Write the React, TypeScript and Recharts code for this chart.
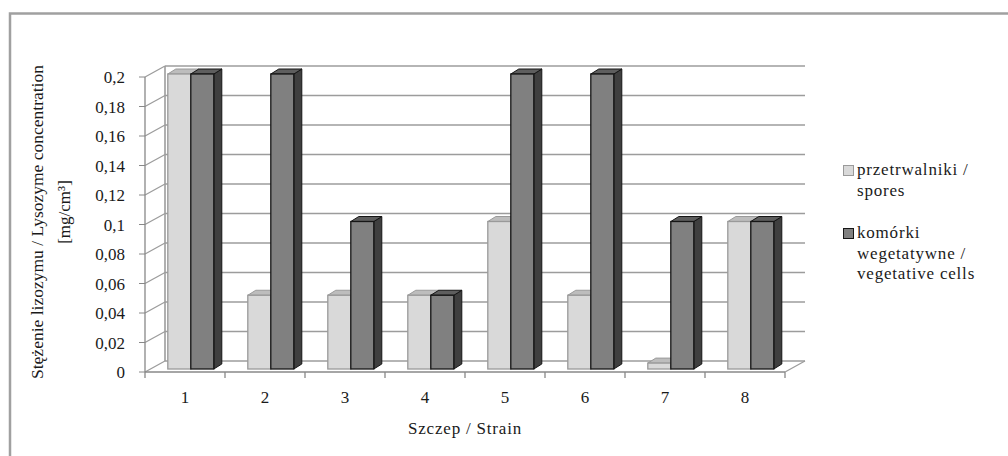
import React from "react";
import {
  Bar,
  BarChart,
  CartesianGrid,
  Legend,
  XAxis,
  YAxis,
} from "recharts";

const categories = ["1", "2", "3", "4", "5", "6", "7", "8"];
const sporesValues = [0.2, 0.05, 0.05, 0.05, 0.1, 0.05, 0.004, 0.1];
const vegetativeValues = [0.2, 0.2, 0.1, 0.05, 0.2, 0.2, 0.1, 0.1];
const yTicks = [0, 0.02, 0.04, 0.06, 0.08, 0.1, 0.12, 0.14, 0.16, 0.18, 0.2];

const sporesLabel = ["przetrwalniki /", "spores"];
const vegetativeLabel = ["komórki", "wegetatywne /", "vegetative cells"];
const yLabelLines = ["Stężenie lizozymu / Lysozyme concentration", "[mg/cm³]"];
const xLabel = "Szczep / Strain";

const data = categories.map((name, i) => ({
  name,
  spores: sporesValues[i],
  vegetative: vegetativeValues[i],
}));

const FONT = "Liberation Serif, DejaVu Serif, serif";
const W = 1008;
const H = 456;

// depth of the back wall and of the bars
const WALL_DX = 20;
const WALL_DY = -11;
const BAR_DX = 8;
const BAR_DY = -5;
const BAR_SHIFT_X = 6;
const BAR_SHIFT_Y = -3;
const GRID = "#9c9c9c";

interface BoxColors {
  front: string;
  top: string;
  side: string;
  stroke: string;
}

const lightBox: BoxColors = { front: "#d9d9d9", top: "#bdbdbd", side: "#b0b0b0", stroke: "#9a9a9a" };
const darkBox: BoxColors = { front: "#808080", top: "#5e5e5e", side: "#3f3f3f", stroke: "#161616" };

const makeBox = (c: BoxColors) => (props: any) => {
  const { x, y, width, height } = props;
  if (!height || height <= 0) return <g />;
  const bx = x + BAR_SHIFT_X;
  const by = y + BAR_SHIFT_Y;
  const w = width;
  const h = height;
  const top = `${bx},${by} ${bx + BAR_DX},${by + BAR_DY} ${bx + w + BAR_DX},${by + BAR_DY} ${bx + w},${by}`;
  const side = `${bx + w},${by} ${bx + w + BAR_DX},${by + BAR_DY} ${bx + w + BAR_DX},${by + h + BAR_DY} ${bx + w},${by + h}`;
  return (
    <g>
      <polygon points={side} fill={c.side} stroke={c.stroke} strokeWidth={1} />
      <polygon points={top} fill={c.top} stroke={c.stroke} strokeWidth={1} />
      <rect x={bx} y={by} width={w} height={h} fill={c.front} stroke={c.stroke} strokeWidth={1.3} />
    </g>
  );
};

// back wall lines + diagonals to the front axis
const horizontalLine = (p: any) => {
  const { x1, y1, x2, y2 } = p;
  return (
    <g key={`h-${y1}`}>
      <line x1={x1 + WALL_DX} y1={y1 + WALL_DY} x2={x2 + WALL_DX} y2={y2 + WALL_DY} stroke={GRID} strokeWidth={1.6} />
      <line x1={x1} y1={y1} x2={x1 + WALL_DX} y2={y1 + WALL_DY} stroke={GRID} strokeWidth={1.3} />
    </g>
  );
};

const verticalLine = (p: any) => {
  const { x1, y1, y2, index } = p;
  return (
    <g key={`v-${x1}`}>
      <line x1={x1} y1={y2} x2={x1} y2={y2 + 6} stroke="#888" strokeWidth={1.3} />
      {index === 0 && (
        <line x1={x1 + WALL_DX} y1={y1 + WALL_DY} x2={x1 + WALL_DX} y2={y2 + WALL_DY} stroke={GRID} strokeWidth={1.6} />
      )}
      {index === categories.length && (
        <line x1={x1} y1={y2} x2={x1 + WALL_DX} y2={y2 + WALL_DY} stroke={GRID} strokeWidth={1.3} />
      )}
    </g>
  );
};

const renderLegend = () => (
  <div style={{ fontFamily: FONT, fontSize: 17, color: "#1a1a1a", lineHeight: "20.5px", letterSpacing: 0.8 }}>
    {[
      { lines: sporesLabel, c: lightBox },
      { lines: vegetativeLabel, c: darkBox },
    ].map((item, i) => (
      <div key={i} style={{ display: "flex", marginBottom: 22 }}>
        <div
          style={{
            width: 9,
            height: 9,
            marginTop: 5,
            marginRight: 3,
            background: item.c.front,
            border: `1.5px solid ${item.c.stroke}`,
            flexShrink: 0,
          }}
        />
        <div>
          {item.lines.map((l) => (
            <div key={l}>{l}</div>
          ))}
        </div>
      </div>
    ))}
  </div>
);

const renderYLabel = () => (
  <g fontFamily={FONT} fill="#1a1a1a">
    <text
      x={37}
      y={222}
      transform="rotate(-90 37 222)"
      textAnchor="middle"
      dominantBaseline="central"
      fontSize={17}
      textLength={314}
      lengthAdjust="spacingAndGlyphs"
    >
      {yLabelLines[0]}
    </text>
    <text
      x={64}
      y={212}
      transform="rotate(-90 64 212)"
      textAnchor="middle"
      dominantBaseline="central"
      fontSize={17}
    >
      {yLabelLines[1]}
    </text>
  </g>
);

const App: React.FC = () => {
  return (
    <div style={{ position: "fixed", left: 0, top: 0, width: W, height: H, overflow: "hidden", background: "#fff" }}>
      <div style={{ position: "absolute", left: 0, top: 0 }}>
        <BarChart
          width={W}
          height={H}
          data={data}
          margin={{ top: 77, right: 223, bottom: 54, left: 85 }}
          barCategoryGap="21%"
          barGap={0}
        >
          <CartesianGrid
            horizontal={horizontalLine}
            vertical={verticalLine}
            verticalCoordinatesGenerator={({ offset }: any) =>
              Array.from({ length: categories.length + 1 }, (_, i) => offset.left + (i * offset.width) / categories.length)
            }
          />
          <XAxis
            dataKey="name"
            height={30}
            tickLine={false}
            tickSize={5}
            tickMargin={14}
            axisLine={{ stroke: "#888", strokeWidth: 1.3 }}
            tick={{ fontFamily: FONT, fontSize: 17, fill: "#1a1a1a" }}
            label={{
              value: xLabel,
              position: "bottom",
              offset: 20,
              style: { fontFamily: FONT, fontSize: 17, fill: "#1a1a1a", letterSpacing: 0.8 },
            }}
          />
          <YAxis
            width={60}
            domain={[0, 0.2]}
            ticks={yTicks}
            interval={0}
            tickSize={6}
            tickMargin={14}
            tickLine={{ stroke: "#888" }}
            axisLine={{ stroke: "#888", strokeWidth: 1.3 }}
            tickFormatter={(v: number) => String(Number(v.toFixed(2))).replace(".", ",")}
            tick={{ fontFamily: FONT, fontSize: 17, fill: "#1a1a1a" }}
            label={{ content: renderYLabel }}
          />
          <Legend
            layout="horizontal"
            verticalAlign="middle"
            align="center"
            content={renderLegend}
            wrapperStyle={{ left: 843, top: 160, width: 165 }}
          />
          <Bar dataKey="spores" name={sporesLabel.join(" ")} fill={lightBox.front} shape={makeBox(lightBox)} isAnimationActive={false} />
          <Bar dataKey="vegetative" name={vegetativeLabel.join(" ")} fill={darkBox.front} shape={makeBox(darkBox)} isAnimationActive={false} />
        </BarChart>
      </div>
      {/* outer frame: top and left edges, the rest runs off the page */}
      <svg width={W} height={H} style={{ position: "absolute", left: 0, top: 0, pointerEvents: "none" }}>
        <polyline points={`10,${H} 10,13.5 ${W},13.5`} fill="none" stroke="#a0a0a0" strokeWidth={2.5} />
      </svg>
    </div>
  );
};

export default App;
